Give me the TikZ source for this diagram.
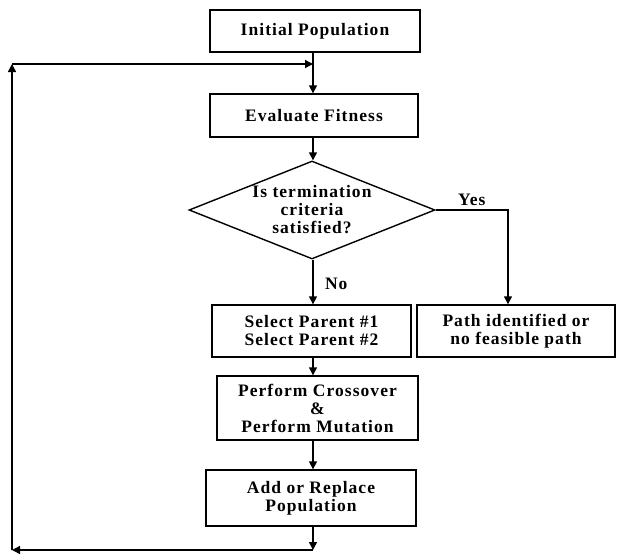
\documentclass[tikz,border=0pt]{standalone}
\usepackage{fontspec}
\setmainfont{Liberation Serif}[LetterSpace=6]
\usetikzlibrary{shapes.geometric,arrows.meta}
\begin{document}
\begin{tikzpicture}[x=1pt,y=-1pt,
  every node/.style={font=\bfseries\fontsize{17.5}{18}\selectfont},
  boxnode/.style={draw,line width=1.4pt,rectangle,inner sep=0pt,align=center},
  decnode/.style={draw,line width=1.4pt,diamond,aspect=2.5,inner sep=0pt,align=center,
    minimum width=246pt,minimum height=98pt},
  arr/.style={line width=1.4pt,-{Triangle[length=8pt,width=8pt]}},
  plain/.style={line width=1.4pt}]
\useasboundingbox (0,0) rectangle (620,555);
\node[boxnode,minimum width=210pt,minimum height=42pt] (init) at (315,31) {Initial Population};
\node[boxnode,minimum width=208pt,minimum height=43pt] (eval) at (314,115.5) {Evaluate Fitness};
\node[decnode] (dia) at (312,210) {Is termination\\criteria\\satisfied?};
\node[boxnode,minimum width=199pt,minimum height=52pt] (sel) at (311.5,331) {Select Parent \#1\\Select Parent \#2};
\node[boxnode,minimum width=198pt,minimum height=52pt] (path) at (516,331) {Path identified or\\no feasible path};
\node[boxnode,minimum width=201pt,minimum height=64pt] (cross) at (317.5,408) {Perform Crossover\\\&\\Perform Mutation};
\node[boxnode,minimum width=210pt,minimum height=56pt] (add) at (311,498) {Add or Replace\\Population};
\coordinate (jt) at (313,64);
\coordinate (tl) at (12,64);
\coordinate (bl) at (12,550);
\coordinate (jb) at (313,550);
\draw[arr] (init.south -| jt) -- (eval.north -| jt);
\draw[arr] (eval.south -| jt) -- (dia.north -| jt);
\draw[arr] (dia.south -| jt) -- node[right,pos=0.55,xshift=8pt]{No} (sel.north -| jt);
\draw[arr] (dia.east) -| node[above,pos=0.25]{Yes} ([xshift=-8pt]path.north);
\draw[arr] (sel.south -| jt) -- (cross.north -| jt);
\draw[arr] (cross.south -| jt) -- (add.north -| jt);
\draw[arr] (add.south -| jt) -- (jb);
\draw[arr] (jb) -- (bl);
\draw[arr] (bl) -- (tl);
\draw[arr] (tl) -- (jt);
\end{tikzpicture}
\end{document}
